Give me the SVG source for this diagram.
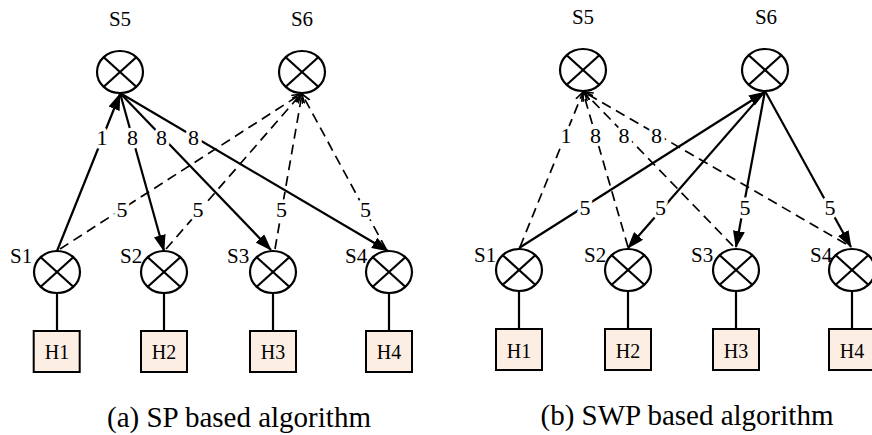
<svg xmlns="http://www.w3.org/2000/svg" width="872" height="435" viewBox="0 0 872 435">
<style>
text{font-family:"Liberation Serif","Times New Roman",serif;fill:#000}
.nl{font-size:21px}
.host rect{fill:#fdeee3;stroke:#000;stroke-width:2}
.host text{font-size:20px;text-anchor:middle}
.link{stroke:#000;stroke-width:2.2}
.s{stroke:#000;stroke-width:2.2;fill:none}
.d{stroke:#000;stroke-width:1.7;fill:none;stroke-dasharray:10 6}
.el{font-size:22px;text-anchor:middle;stroke:#fff;stroke-width:7;paint-order:stroke;stroke-linejoin:round}
.cap{font-size:29px;text-anchor:middle}
</style>
<defs>
<marker id="fa" markerWidth="17" markerHeight="12" refX="16" refY="6" orient="auto" markerUnits="userSpaceOnUse"><path d="M0,0 L17,6 L0,12 z" fill="#000"/></marker>
<marker id="oa" markerWidth="10" markerHeight="10" refX="9" refY="5" orient="auto" markerUnits="userSpaceOnUse"><path d="M0,1 L9,5 L0,9" fill="none" stroke="#000" stroke-width="1.6"/></marker>
<g id="xs" fill="#fff" stroke="#000" stroke-width="2.2"><ellipse cx="0" cy="0" rx="23" ry="21"/><line x1="-16.3" y1="-14.8" x2="16.3" y2="14.8"/><line x1="-16.3" y1="14.8" x2="16.3" y2="-14.8"/></g>
</defs>

<!-- connectors -->
<g id="connectors">
<!-- (a) -->
<line class="link" x1="57" y1="293" x2="57" y2="331"/>
<line class="link" x1="164" y1="293" x2="164" y2="331"/>
<line class="link" x1="273" y1="293" x2="273" y2="331"/>
<line class="link" x1="389" y1="293" x2="389" y2="331"/>
<line class="d" x1="60" y1="249" x2="301" y2="94" marker-end="url(#oa)"/>
<line class="d" x1="166" y1="249" x2="301" y2="94" marker-end="url(#oa)"/>
<line class="d" x1="275" y1="249" x2="302" y2="94" marker-end="url(#oa)"/>
<line class="d" x1="386" y1="249" x2="302" y2="94" marker-end="url(#oa)"/>
<line class="s" x1="57" y1="251" x2="120" y2="94" marker-end="url(#fa)"/>
<line class="s" x1="120" y1="93" x2="164" y2="251" marker-end="url(#fa)"/>
<line class="s" x1="120" y1="93" x2="271" y2="250" marker-end="url(#fa)"/>
<line class="s" x1="120" y1="93" x2="388" y2="251" marker-end="url(#fa)"/>
<!-- (b) -->
<line class="link" x1="519" y1="291" x2="519" y2="329"/>
<line class="link" x1="628" y1="291" x2="628" y2="329"/>
<line class="link" x1="736" y1="291" x2="736" y2="329"/>
<line class="link" x1="852" y1="291" x2="852" y2="329"/>
<line class="d" x1="520" y1="247" x2="583" y2="92" marker-end="url(#oa)"/>
<line class="d" x1="628" y1="247" x2="583" y2="92" marker-end="url(#oa)"/>
<line class="d" x1="733" y1="246" x2="584" y2="92" marker-end="url(#oa)"/>
<line class="d" x1="846" y1="244" x2="584" y2="92" marker-end="url(#oa)"/>
<line class="s" x1="519" y1="248" x2="765" y2="92" marker-end="url(#fa)"/>
<line class="s" x1="765" y1="91" x2="628" y2="248" marker-end="url(#fa)"/>
<line class="s" x1="765" y1="91" x2="736" y2="247" marker-end="url(#fa)"/>
<line class="s" x1="765" y1="91" x2="851" y2="247" marker-end="url(#fa)"/>
</g>

<!-- edge labels -->
<g id="edge-labels">
<text class="el" x="102" y="145">1</text>
<text class="el" x="132.5" y="145">8</text>
<text class="el" x="161.5" y="145">8</text>
<text class="el" x="193.5" y="145">8</text>
<text class="el" x="122" y="217">5</text>
<text class="el" x="198" y="217">5</text>
<text class="el" x="281.5" y="217">5</text>
<text class="el" x="365.5" y="217">5</text>
<text class="el" x="566" y="143">1</text>
<text class="el" x="595.5" y="143">8</text>
<text class="el" x="624" y="143">8</text>
<text class="el" x="656.5" y="143">8</text>
<text class="el" x="585" y="215">5</text>
<text class="el" x="660.5" y="215">5</text>
<text class="el" x="745" y="215">5</text>
<text class="el" x="830" y="215">5</text>
</g>

<!-- (a) nodes -->
<g id="a-S5"><use href="#xs" x="120" y="72"/><text class="nl" x="120" y="26" text-anchor="middle">S5</text></g>
<g id="a-S6"><use href="#xs" x="302" y="72"/><text class="nl" x="302" y="26" text-anchor="middle">S6</text></g>
<g id="a-S1"><use href="#xs" x="57" y="272"/><text class="nl" x="10" y="263">S1</text></g>
<g id="a-S2"><use href="#xs" x="164" y="272"/><text class="nl" x="120" y="263">S2</text></g>
<g id="a-S3"><use href="#xs" x="273" y="272"/><text class="nl" x="227" y="263">S3</text></g>
<g id="a-S4"><use href="#xs" x="389" y="272"/><text class="nl" x="345" y="263">S4</text></g>
<g id="a-H1" class="host"><rect x="33.7" y="331" width="46" height="41"/><text x="57" y="359">H1</text></g>
<g id="a-H2" class="host"><rect x="141" y="331" width="46" height="41"/><text x="164" y="359">H2</text></g>
<g id="a-H3" class="host"><rect x="250" y="331" width="46" height="41"/><text x="273" y="359">H3</text></g>
<g id="a-H4" class="host"><rect x="366" y="331" width="46" height="41"/><text x="389" y="359">H4</text></g>

<!-- (b) nodes -->
<g id="b-S5"><use href="#xs" x="583" y="70"/><text class="nl" x="583" y="24" text-anchor="middle">S5</text></g>
<g id="b-S6"><use href="#xs" x="765" y="70"/><text class="nl" x="766" y="24" text-anchor="middle">S6</text></g>
<g id="b-S1"><use href="#xs" x="519" y="270"/><text class="nl" x="474" y="262">S1</text></g>
<g id="b-S2"><use href="#xs" x="628" y="270"/><text class="nl" x="584" y="262">S2</text></g>
<g id="b-S3"><use href="#xs" x="736" y="270"/><text class="nl" x="691" y="262">S3</text></g>
<g id="b-S4"><use href="#xs" x="852" y="270"/><text class="nl" x="810" y="262">S4</text></g>
<g id="b-H1" class="host"><rect x="496" y="329" width="46" height="41"/><text x="519" y="358">H1</text></g>
<g id="b-H2" class="host"><rect x="605" y="329" width="46" height="41"/><text x="628" y="358">H2</text></g>
<g id="b-H3" class="host"><rect x="713" y="329" width="46" height="41"/><text x="736" y="358">H3</text></g>
<g id="b-H4" class="host"><rect x="829" y="329" width="46" height="41"/><text x="852" y="358">H4</text></g>

<text class="cap" x="239" y="427">(a) SP based algorithm</text>
<text class="cap" x="687" y="425">(b) SWP based algorithm</text>
</svg>
